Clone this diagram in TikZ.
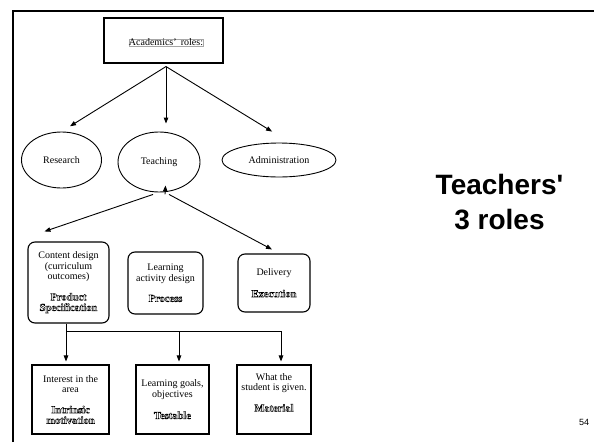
\documentclass[tikz,border=0pt]{standalone}
\usepackage{fontspec}
\setmainfont{Liberation Serif}
\newfontfamily\arialfont{Liberation Sans}
\usetikzlibrary{shapes.geometric,arrows.meta,calc}
\newcommand{\hol}[1]{{\fontsize{10.5}{12.5}\selectfont\bfseries\special{pdf:literal direct 1 Tr 0.45 w}#1\special{pdf:literal direct 0 Tr}}}
\tikzset{
  x=1pt,y=1pt,
  txt/.style={font=\fontsize{10}{10.5}\selectfont, align=center, inner sep=0pt},
  plainbox/.style={draw, line width=1.1pt, txt},
  roundbox/.style={draw, line width=1.1pt, rounded corners=7pt, txt},
  oval/.style={draw, ellipse, line width=0.9pt, txt},
  conn/.style={line width=0.9pt},
  arr/.style={line width=0.9pt, -{Triangle[length=6pt,width=4.5pt]}}
}
\begin{document}
\begin{tikzpicture}
\useasboundingbox (0,0) rectangle (594,-442);
\fill[white] (0,0) rectangle (594,-442);
% frame
\draw[line width=2.2pt] (13,-442) -- (13,-11) -- (594,-11);
% top box
\node[plainbox, minimum width=119pt, minimum height=45pt] (top) at (163.5,-40.5) {};
\node[draw=gray!70, line width=0.8pt, inner xsep=1.5pt, inner ysep=1pt, txt] (acad) at (166,-42.5) {Academics'\ \,roles:};
% ellipses
\node[oval, minimum width=80pt, minimum height=56pt] (research) at (61.5,-160) {Research};
\node[oval, minimum width=82pt, minimum height=60pt] (teaching) at (159,-162) {Teaching};
\node[oval, minimum width=114pt, minimum height=34pt] (admin) at (279,-160) {Administration};
% level 3
\node[roundbox, minimum width=81pt, minimum height=81pt] (cd) at (68.5,-282.5)
  {Content design\\(curriculum\\outcomes)\\[10pt]\hol{Product}\\\hol{Specification}};
\node[roundbox, minimum width=75pt, minimum height=62pt] (la) at (165.5,-283)
  {Learning\\activity design\\[10pt]\hol{Process}};
\node[roundbox, minimum width=72pt, minimum height=58pt] (del) at (274,-283)
  {Delivery\\[11pt]\hol{Execution}};
% level 4
\node[plainbox, minimum width=77pt, minimum height=69pt] (int) at (70.5,-399.5)
  {Interest in the\\area\\[10pt]\hol{Intrinsic}\\\hol{motivation}};
\node[plainbox, minimum width=73pt, minimum height=69pt] (lg) at (172.5,-399.5)
  {Learning goals,\\objectives\\[11pt]\hol{Testable}};
\node[plainbox, minimum width=74pt, minimum height=69pt, text depth=14pt] (what) at (274,-399.5)
  {What the\\student is given.\\[10pt]\hol{Material}};
% arrows from top
\coordinate (topsrc) at ([xshift=2.5pt,yshift=-3pt]top.south);
\draw[arr, shorten >=10pt] (topsrc) -- (research.north);
\draw[arr, shorten >=8pt] (topsrc) -- (topsrc |- teaching.north);
\draw[arr, shorten >=21pt] (topsrc) -- ([xshift=11pt]admin.north);
% arrows from teaching
\draw[arr] ([xshift=-6pt,yshift=-2pt]teaching.south) -- ([xshift=17pt,yshift=10pt]cd.north west);
\draw[arr] ([xshift=6pt,yshift=-2pt]teaching.south) -- ([yshift=7pt]teaching.south -| la.north);
\draw[arr] ([xshift=10pt,yshift=-2pt]teaching.south) -- ([xshift=-2pt,yshift=4pt]del.north);
% bus
\coordinate (busL) at (66,-331);
\coordinate (busM) at (179,-331);
\coordinate (busR) at (281,-331);
\draw[conn] (cd.south -| busL) -- (busL) -- (busR);
\draw[arr] (busL) -- ([yshift=3pt]busL |- int.north);
\draw[arr] (busM) -- ([yshift=3pt]busM |- lg.north);
\draw[arr] (busR) -- ([yshift=3pt]busR |- what.north);
% title
\node[font=\arialfont\bfseries\fontsize{28}{35}\selectfont, align=center, inner sep=0pt] (title) at (499.5,-202.5) {Teachers'\\3 roles};
\node[font=\arialfont\fontsize{9}{10}\selectfont, inner sep=0pt] (pagenum) at (584,-422) {54};
\end{tikzpicture}
\end{document}
